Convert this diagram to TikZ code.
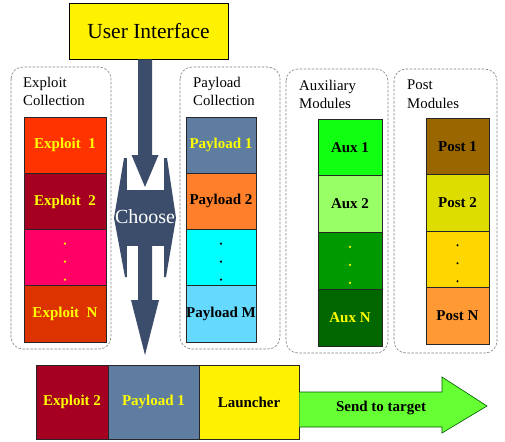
\documentclass[tikz,border=0pt]{standalone}
\usepackage{fontspec}
\setmainfont{Liberation Serif}
\usetikzlibrary{calc}
\definecolor{arrowblue}{HTML}{3B4D6B}
\definecolor{exA}{HTML}{FF3300}
\definecolor{exB}{HTML}{A50021}
\definecolor{exC}{HTML}{FF0066}
\definecolor{exD}{HTML}{DD3300}
\definecolor{plA}{HTML}{5F7DA0}
\definecolor{plB}{HTML}{FF7F2A}
\definecolor{plC}{HTML}{00FFFF}
\definecolor{plD}{HTML}{66D9FF}
\definecolor{axA}{HTML}{11FF11}
\definecolor{axB}{HTML}{99FF66}
\definecolor{axC}{HTML}{009900}
\definecolor{axD}{HTML}{006600}
\definecolor{psA}{HTML}{996600}
\definecolor{psB}{HTML}{DDDD00}
\definecolor{psC}{HTML}{FFD700}
\definecolor{psD}{HTML}{FF9933}
\definecolor{sendgreen}{HTML}{66FF33}
\definecolor{txtyellow}{HTML}{FFFF00}
\newcommand\threedots[2]{%
  \foreach \d in {-14,4,22} \fill[#2] ($(#1.center)+(0,\d)$) circle (1.2pt);}
\begin{document}
\begin{tikzpicture}[x=1pt,y=-1pt,
  cell/.style={draw=black!85, line width=0.6pt, inner sep=0pt,
    font=\bfseries\fontsize{15}{18}\selectfont},
  ecol/.style={cell, minimum width=82pt, minimum height=56.25pt},
  pcol/.style={cell, minimum width=70pt, minimum height=56.25pt},
  acol/.style={cell, minimum width=64pt, minimum height=56.75pt},
  scol/.style={cell, minimum width=63pt, minimum height=56.5pt},
  group/.style={draw=gray, dash pattern=on 2.5pt off 1.5pt, rounded corners=12pt, line width=0.6pt},
  lbl/.style={anchor=north west, inner sep=0pt, align=left,
    font=\fontsize{14.8}{18.5}\selectfont},
  blockarrow/.style={fill=arrowblue, draw=none}]
\useasboundingbox (0,0) rectangle (505,441);

% dashed groups
\draw[group] (11,67) rectangle (111,349);
\draw[group] (180,67) rectangle (280,349);
\draw[group] (286,69) rectangle (388,353);
\draw[group] (394,69) rectangle (497,353);

\node[lbl] (lex) at (23,77) {Exploit\\Collection};
\node[lbl] (lpl) at (193,77) {Payload\\Collection};
\node[lbl] (lax) at (299,80) {Auxiliary\\Modules};
\node[lbl] (lps) at (407,80) {Post\\Modules};

% exploit column
\node[ecol, fill=exA, text=txtyellow] (e1) at (65,145.1) {Exploit~~1};
\node[ecol, fill=exB, text=txtyellow] (e2) at (65,201.4) {Exploit~~2};
\node[ecol, fill=exC] (e3) at (65,257.6) {};
\node[ecol, fill=exD, text=txtyellow] (e4) at (65,313.9) {Exploit~~N};
\threedots{e3}{txtyellow}

% payload column
\node[pcol, fill=plA, text=txtyellow] (p1) at (221,145.1) {Payload 1};
\node[pcol, fill=plB] (p2) at (221,201.4) {Payload 2};
\node[pcol, fill=plC] (p3) at (221,257.6) {};
\node[pcol, fill=plD] (p4) at (221,313.9) {Payload M};
\threedots{p3}{black}

% aux column
\node[acol, fill=axA] (a1) at (350,147.4) {Aux 1};
\node[acol, fill=axB] (a2) at (350,204.1) {Aux 2};
\node[acol, fill=axC] (a3) at (350,260.9) {};
\node[acol, fill=axD, text=txtyellow] (a4) at (350,317.6) {Aux N};
\threedots{a3}{txtyellow}

% post column
\node[scol, fill=psA] (s1) at (457.5,146.25) {Post 1};
\node[scol, fill=psB] (s2) at (457.5,202.75) {Post 2};
\node[scol, fill=psC] (s3) at (457.5,259.25) {};
\node[scol, fill=psD] (s4) at (457.5,315.75) {Post N};
\threedots{s3}{black}

% user interface
\node[draw=black, line width=0.8pt, fill=yellow, minimum width=159pt, minimum height=56pt,
  inner sep=0pt, font=\fontsize{21.5}{24}\selectfont] (ui) at (148.5,31) {User Interface};

% choose shape
\fill[arrowblue] (124,158) -- (167,158) -- (176,218) -- (166,277) -- (125,277) -- (114,218) -- cycle;
\fill[white] (127,157) rectangle (164,190);
\fill[white] (127,246) rectangle (164,279);
\node[text=white, inner sep=0pt, font=\fontsize{20}{24}\selectfont] (choose) at (145,217) {Choose};

% incoming arrow
\fill[blockarrow] (ui.south -| 138,0) -- (138,155) -- (131.5,155) -- (145,187)
  -- (158.5,155) -- (152,155) -- (ui.south -| 152,0) -- cycle;
% outgoing arrow
\fill[blockarrow] (138,245) -- (138,300) -- (131,300) -- (145,355) -- (159,300)
  -- (152,300) -- (152,245) -- cycle;

% bottom bar
\node[cell, fill=exB, text=txtyellow, minimum width=72pt, minimum height=74pt] (b1) at (72,402) {Exploit 2};
\node[cell, fill=plA, text=txtyellow, minimum width=91pt, minimum height=74pt] (b2) at (153.5,402) {Payload 1};
\node[cell, fill=yellow, minimum width=100pt, minimum height=74pt] (b3) at (249,402) {Launcher};

% send arrow
\draw[fill=sendgreen, draw=green!35!black, line width=0.6pt]
  (b3.east |- 0,392) -- (442,392) -- (442,377) -- (487,406) -- (442,433) -- (442,427)
  -- (b3.east |- 0,427);
\node[inner sep=0pt, font=\bfseries\fontsize{15}{18}\selectfont] (send) at (381,408) {Send to target};
\end{tikzpicture}
\end{document}
